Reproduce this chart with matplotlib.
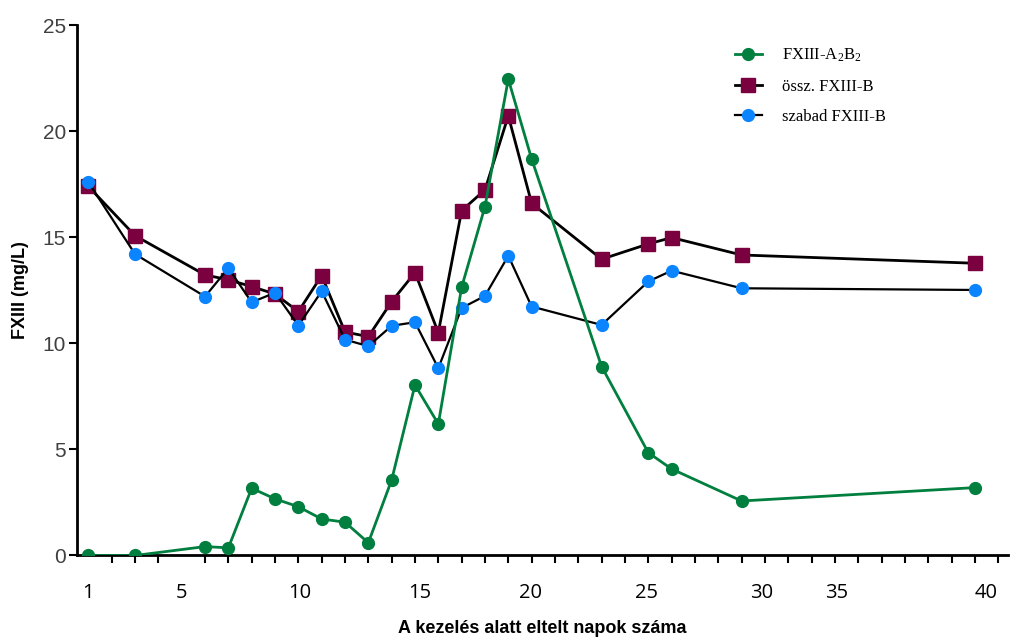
import numpy as np
import matplotlib
matplotlib.use('Agg')
import matplotlib.pyplot as plt

# FXIII concentrations during treatment (mg/L)
napok = [1, 3, 6, 7, 8, 9, 10, 11, 12, 13, 14, 15, 16, 17, 18, 19, 20, 23, 25, 26, 29, 39]
a2b2 = [0.0, 0.0, 0.42, 0.36, 3.17, 2.67, 2.30, 1.72, 1.57, 0.60, 3.56, 8.04, 6.20,
        12.65, 16.45, 22.46, 18.70, 8.91, 4.85, 4.08, 2.57, 3.20]
ossz_b = [17.40, 15.08, 13.23, 13.00, 12.68, 12.33, 11.50, 13.20, 10.54, 10.32, 11.97, 13.34, 10.51,
          16.26, 17.24, 20.73, 16.61, 13.97, 14.69, 14.99, 14.17, 13.78]
szabad_b = [17.60, 14.21, 12.21, 13.55, 11.94, 12.39, 10.84, 12.46, 10.18, 9.87, 10.83, 11.00, 8.83,
            11.67, 12.24, 14.13, 11.74, 10.87, 12.92, 13.43, 12.60, 12.52]

# axis labels as they stand on the printed axis
xtick_pos = [1, 5, 10.04, 15.2, 19.94, 24.93, 29.86, 33.07, 39.5]
xtick_lab = ['1', '5', '10', '15', '20', '25', '30', '35', '40']
yticks = [0, 5, 10, 15, 20, 25]

plt.rcParams['mathtext.fontset'] = 'custom'
plt.rcParams['mathtext.rm'] = 'Liberation Serif'
plt.rcParams['mathtext.it'] = 'Liberation Serif'

fig = plt.figure(figsize=(10.10, 6.39), dpi=100)
ax = fig.add_axes([0.0762, 0.1307, 0.9218, 0.8297])

green = '#007f3f'
maroon = '#7a0040'
blue = '#0a84ff'

ax.plot(napok, ossz_b, color='k', lw=2.0, marker='s', ms=10.5, mfc=maroon, mec=maroon,
        label='össz. FXIII-B', zorder=3)
ax.plot(napok, szabad_b, color='k', lw=1.6, marker='o', ms=8.5, mfc=blue, mec=blue,
        label='szabad FXIII-B', zorder=4)
ax.plot(napok, a2b2, color=green, lw=2.0, marker='o', ms=8.5, mfc=green, mec=green,
        label='FXIII-A$_2$B$_2$', zorder=5)

ax.set_xlim(0.51, 40.42)
ax.set_ylim(0, 25)

ax.spines['top'].set_visible(False)
ax.spines['right'].set_visible(False)
ax.spines['left'].set_linewidth(2)
ax.spines['bottom'].set_linewidth(2)

ax.set_yticks(yticks)
ax.tick_params(axis='y', direction='out', length=6, width=1.5, labelsize=15,
               labelcolor='#404040', pad=2)
for t in ax.get_yticklabels():
    t.set_fontfamily('Liberation Sans')

ax.set_xticks(range(1, 41), minor=True)
ax.set_xticks(xtick_pos)
ax.set_xticklabels(xtick_lab)
ax.tick_params(axis='x', which='major', length=0, labelsize=14.5, pad=20)
ax.tick_params(axis='x', which='minor', direction='out', length=6, width=1.5)
for t in ax.get_xticklabels():
    t.set_fontfamily('Open Sans')

ax.set_ylabel('FXIII (mg/L)', fontsize=13, fontweight='bold', family='Liberation Sans', labelpad=10)
ax.set_xlabel('A kezelés alatt eltelt napok száma', fontsize=13, fontweight='bold',
              family='Liberation Sans', labelpad=12)

h, l = ax.get_legend_handles_labels()
order = [2, 0, 1]
leg = ax.legend([h[i] for i in order], [l[i] for i in order], frameon=False,
                loc='upper left', bbox_to_anchor=(0.713, 0.95), bbox_transform=fig.transFigure,
                prop={'family': 'Liberation Serif', 'size': 12}, handlelength=1.6,
                labelspacing=0.85, handletextpad=1.2)

plt.savefig('out.png', dpi=100)
plt.close()
